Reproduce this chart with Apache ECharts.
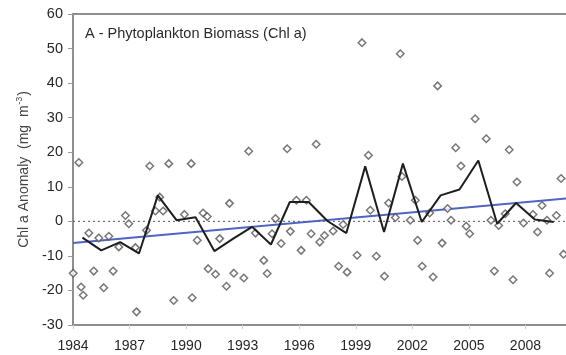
<!DOCTYPE html>
<html>
<head>
<meta charset="utf-8">
<script src="https://cdn.jsdelivr.net/npm/echarts@6/dist/echarts.min.js"></script>
<style>
  html, body { margin: 0; padding: 0; background: #fff; }
  #chart { width: 566px; height: 355px; }
</style>
</head>
<body>
<div id="chart"></div>
<script>
// Individual Chl a anomaly observations (decimal year, mg m-3)
const obsYears = [
  1984.01, 1984.31, 1984.43, 1984.54, 1984.84, 1985.10, 1985.37, 1985.63, 1985.90, 1986.13,
  1986.43, 1986.78, 1986.96, 1987.31, 1987.37, 1987.90, 1988.07, 1988.37, 1988.60, 1988.78,
  1989.08, 1989.34, 1989.91, 1990.27, 1990.32, 1990.59, 1990.90, 1991.12, 1991.17, 1991.56,
  1991.78, 1992.14, 1992.30, 1992.53, 1993.06, 1993.32, 1993.68, 1994.12, 1994.30, 1994.56,
  1994.74, 1995.04, 1995.36, 1995.53, 1995.85, 1996.10, 1996.38, 1996.63, 1996.90, 1997.09,
  1997.34, 1997.80, 1998.09, 1998.33, 1998.54, 1999.07, 1999.33, 1999.67, 1999.77, 2000.09,
  2000.52, 2000.74, 2001.10, 2001.36, 2001.45, 2001.89, 2002.16, 2002.28, 2002.52, 2002.92,
  2003.10, 2003.34, 2003.58, 2003.87, 2004.05, 2004.30, 2004.58, 2004.86, 2005.04, 2005.33,
  2005.92, 2006.17, 2006.35, 2006.58, 2006.93, 2007.14, 2007.34, 2007.55, 2007.90, 2008.40,
  2008.64, 2008.88, 2009.14, 2009.28, 2009.64, 2009.89, 2010.02
];
const obsValues = [
  -15.0, 17.0, -19.0, -21.4, -3.4, -14.4, -4.8, -19.2, -4.3, -14.4,
  -7.4, 1.7, -0.7, -7.6, -26.2, -2.6, 16.0, 3.0, 7.0, 3.0,
  16.7, -22.9, 2.0, 16.7, -22.1, -5.5, 2.4, 1.4, -13.7, -15.3,
  -5.0, -18.8, 5.2, -15.0, -16.4, 20.3, -3.4, -11.3, -15.1, -3.6,
  0.8, -6.4, 21.0, -2.9, 6.1, -8.4, 6.1, -3.6, 22.3, -6.0,
  -4.1, -2.8, -13.0, -0.9, -14.7, -9.8, 51.7, 19.1, 3.2, -10.1,
  -15.9, 5.3, 1.1, 48.5, 13.0, 0.3, 6.1, -5.5, -13.0, 2.4,
  -16.1, 39.2, -6.3, 3.7, 0.3, 21.3, 16.0, -1.4, -3.6, 29.7,
  23.9, 0.3, -14.4, -1.2, 2.2, 20.7, -16.9, 11.4, -0.5, 2.0,
  -3.1, 4.6, 0.3, -15.0, 1.7, 12.4, -9.5
];

// Annual mean anomaly, plotted at mid-year
const annualYears = [
  1984, 1985, 1986, 1987, 1988, 1989, 1990, 1991, 1992, 1993, 1994, 1995, 1996,
  1997, 1998, 1999, 2000, 2001, 2002, 2003, 2004, 2005, 2006, 2007, 2008, 2009
];
const annualMeans = [
  -4.7, -8.4, -6.0, -9.3, 7.5, 0.3, 1.2, -8.6, -5.0, -1.6, -6.7, 5.6, 5.6,
  0.1, -3.4, 15.9, -3.1, 16.7, -0.2, 7.5, 9.2, 17.6, -0.7, 5.3, 0.5, -0.2
];

// Linear trend end points
const trendYears = [1984, 2011];
const trendValues = [-6.3, 7.0];

// Axis ranges and tick steps
const xRange = [1984, 2011];
const xStep = 3;
const yRange = [-30, 60];
const yStep = 10;

const titleText = 'A - Phytoplankton Biomass (Chl a)';
const font = '"Liberation Sans", Arial, sans-serif';

const chart = echarts.init(document.getElementById('chart'), null, { renderer: 'canvas' });

chart.setOption({
  animation: false,
  backgroundColor: '#ffffff',
  title: {
    text: titleText,
    left: 85,
    top: 26,
    padding: 0,
    textStyle: { fontFamily: font, fontSize: 14.5, fontWeight: 'normal', color: '#2a2a2a' }
  },
  grid: {
    left: 73, right: -16, top: 14, bottom: 30,
    outerBoundsMode: 'none',
    containLabel: false,
    show: true, borderColor: '#8e8e8e', borderWidth: 2, backgroundColor: 'transparent'
  },
  xAxis: {
    type: 'value',
    min: xRange[0], max: xRange[1], interval: xStep,
    axisLine: { show: true, onZero: false, lineStyle: { color: '#8e8e8e', width: 2 } },
    axisTick: { show: true, length: 4, lineStyle: { color: '#cfcfcf', width: 1 } },
    axisLabel: {
      margin: 14, fontFamily: font, fontSize: 14, color: '#282828',
      formatter: v => String(v)
    },
    splitLine: { show: false }
  },
  yAxis: {
    type: 'value',
    min: yRange[0], max: yRange[1], interval: yStep,
    name: '{t|Chl a Anomaly  (mg  m}{s|-3}{t|)}',
    nameLocation: 'middle',
    nameGap: 38,
    nameTextStyle: {
      rich: {
        t: { fontFamily: font, fontSize: 14, color: '#444', lineHeight: 17 },
        s: { fontFamily: font, fontSize: 8.5, color: '#444', verticalAlign: 'top', lineHeight: 17, padding: [0, 1, 0, 1] }
      }
    },
    axisLine: { show: true, lineStyle: { color: '#8e8e8e', width: 2 } },
    axisTick: { show: true, length: 5, lineStyle: { color: '#9a9a9a', width: 1 } },
    axisLabel: {
      margin: 10, fontFamily: font, fontSize: 14.5, color: '#282828',
      formatter: v => String(v)
    },
    splitLine: { show: false }
  },
  series: [
    {
      // zero reference
      type: 'line',
      data: [[xRange[0], 0], [xRange[1], 0]],
      symbol: 'none',
      silent: true,
      lineStyle: { color: '#555', width: 1, type: [2, 3] },
      z: 1
    },
    {
      type: 'line',
      data: trendYears.map((y, i) => [y, trendValues[i]]),
      symbol: 'none',
      lineStyle: { color: '#5064c4', width: 2 },
      z: 2
    },
    {
      type: 'scatter',
      data: obsYears.map((y, i) => [y, obsValues[i]]),
      symbol: 'diamond',
      symbolSize: 7.5,
      itemStyle: { color: '#ffffff', borderColor: '#555', borderWidth: 1.5 },
      z: 3
    },
    {
      type: 'line',
      data: annualYears.map((y, i) => [y + 0.5, annualMeans[i]]),
      symbol: 'none',
      lineStyle: { color: '#1e1e1e', width: 2 },
      z: 4
    }
  ]
});
</script>
</body>
</html>
